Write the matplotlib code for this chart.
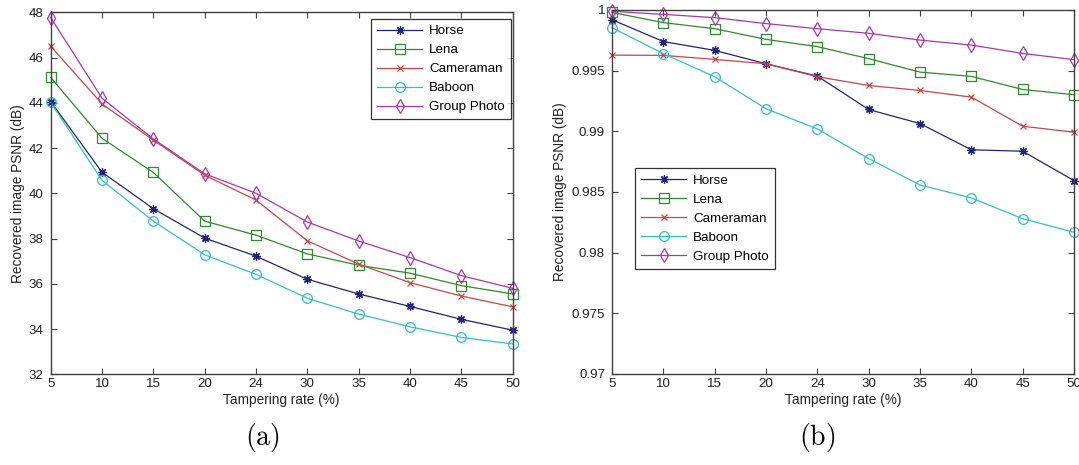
import matplotlib
matplotlib.use('Agg')
import matplotlib.pyplot as plt
from matplotlib.ticker import FuncFormatter

plt.rcParams['font.family'] = ['Liberation Sans', 'DejaVu Sans']
plt.rcParams['mathtext.fontset'] = 'cm'

# 篡改率（x 轴类别，等间距）
rates = ['5', '10', '15', '20', '24', '30', '35', '40', '45', '50']
names = ['Horse', 'Lena', 'Cameraman', 'Baboon', 'Group Photo']

# (a) PSNR
psnr_horse = [44.05, 40.93, 39.32, 38.02, 37.22, 36.2, 35.55, 35.0, 34.43, 33.95]
psnr_lena = [45.12, 42.43, 40.92, 38.77, 38.15, 37.32, 36.82, 36.47, 35.92, 35.55]
psnr_camera = [46.5, 43.95, 42.35, 40.8, 39.7, 37.9, 36.87, 36.05, 35.46, 34.98]
psnr_baboon = [44.02, 40.57, 38.77, 37.28, 36.42, 35.36, 34.66, 34.1, 33.63, 33.34]
psnr_group = [47.77, 44.2, 42.4, 40.86, 40.0, 38.73, 37.89, 37.16, 36.36, 35.8]

# (b)
ssim_horse = [0.9992, 0.9974, 0.99667, 0.99557, 0.99455, 0.9918, 0.99064, 0.98848, 0.98836, 0.98594]
ssim_lena = [0.9998, 0.99896, 0.99846, 0.99758, 0.99698, 0.99599, 0.99488, 0.99453, 0.99345, 0.99302]
ssim_camera = [0.99628, 0.99626, 0.99593, 0.99557, 0.9945, 0.99378, 0.99337, 0.99282, 0.99042, 0.98993]
ssim_baboon = [0.99854, 0.9964, 0.9945, 0.99186, 0.9902, 0.98775, 0.98558, 0.98451, 0.9828, 0.98168]
ssim_group = [0.99989, 0.99964, 0.99937, 0.99888, 0.99846, 0.99808, 0.99752, 0.99711, 0.99642, 0.99591]

colors = ['#23237e', '#2d8a2d', '#c84646', '#33c0c0', '#a838a8']
markers = [(8, 2, 0), 's', 'x', 'o', 'd']
msizes = [6, 7, 4.5, 7, 7.5]

fig = plt.figure(figsize=(10.79, 4.65), dpi=100)
ax1 = fig.add_axes([0.04699, 0.19505, 0.42817, 0.77849])
ax2 = fig.add_axes([0.56719, 0.19570, 0.42817, 0.78280])

xs = list(range(len(rates)))

def draw(ax, series):
    for i, ys in enumerate(series):
        ax.plot(xs, ys, color=colors[i], marker=markers[i], ms=msizes[i],
                mfc='none', mec=colors[i], mew=0.9, lw=0.9, label=names[i], clip_on=False)
    ax.set_xlim(0, len(rates) - 1)
    ax.set_xticks(xs)
    ax.set_xticklabels(rates)
    ax.tick_params(direction='in', top=True, right=True, length=4, width=0.8,
                   labelsize=9.6, color='#404040', labelcolor='#222222')
    ax.tick_params(axis='x', pad=3)
    ax.tick_params(axis='y', pad=5)
    for s in ax.spines.values():
        s.set_color('#404040')
        s.set_linewidth(1.0)
    ax.set_xlabel('Tampering rate (%)', fontsize=9.8, labelpad=2, color='#222222')
    ax.set_ylabel('Recovered image PSNR (dB)', fontsize=9.8, labelpad=3, color='#222222')

draw(ax1, [psnr_horse, psnr_lena, psnr_camera, psnr_baboon, psnr_group])
ax1.set_ylim(32, 48)
ax1.set_yticks(range(32, 49, 2))

draw(ax2, [ssim_horse, ssim_lena, ssim_camera, ssim_baboon, ssim_group])
ax2.set_ylim(0.97, 1.0)
ax2.set_yticks([0.97, 0.975, 0.98, 0.985, 0.99, 0.995, 1.0])
ax2.yaxis.set_major_formatter(FuncFormatter(lambda v, p: f'{v:g}'))

leg_kw = dict(fontsize=9.6, frameon=True, fancybox=False, borderaxespad=0,
              handlelength=3.4, handletextpad=0.5, labelspacing=0.5,
              borderpad=0.45, bbox_transform=fig.transFigure)
l1 = ax1.legend(loc='upper right', bbox_to_anchor=(510.7 / 1079, 1 - 19 / 465), **leg_kw)
l2 = ax2.legend(loc='upper left', bbox_to_anchor=(635 / 1079, 1 - 168.3 / 465), **leg_kw)
for l in (l1, l2):
    l.get_frame().set_edgecolor('black')
    l.get_frame().set_linewidth(0.9)

fig.text(262 / 1079, 1 - 437 / 465, r'$\mathrm{(a)}$', fontsize=20, ha='center', va='center')
fig.text(817 / 1079, 1 - 437 / 465, r'$\mathrm{(b)}$', fontsize=20, ha='center', va='center')

fig.savefig('out.png', dpi=100)
